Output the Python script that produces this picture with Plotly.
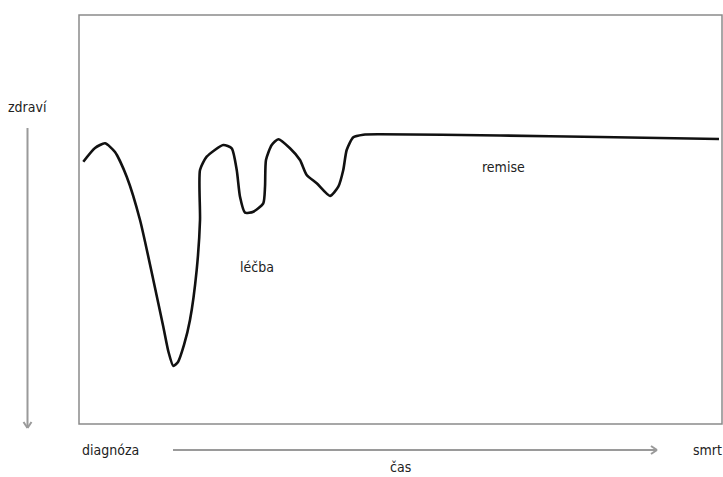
import plotly.graph_objects as go

# --- data (time 0-100 along x, health 0-100 along y) ---
W, H = 723, 477
L, R, T, B = 79, 722, 15, 424
PW, PH = R - L, B - T

curve_px = [(83.3,161.7),(95,148),(105,143.3),(115,152),(126.7,176.7),(140,220),(153.3,280),
            (163.3,326.7),(168.5,352),(173.3,366),(178,362),(184,345),(190,320),(196.7,270),
            (200,220),(200,170),(206.7,156.7),(223.3,145),(231.7,148.3),(236.7,170),
            (240,196.7),(245,212.7),(253.3,211.7),(263.3,203.3),(265,186.7),(266,160),
            (271.7,145),(278.3,139.3),(290,148.3),(300,160),(306.7,175),(316.7,183.3),
            (330,196),(338.3,186.7),(343.3,170),(346.7,150),(353.3,137.3),(363.3,134.7),
            (380,134.3),(500,135.5),(600,137),(719,139)]
cas = [round((x - L) / PW * 100, 2) for x, _ in curve_px]
zdravi = [round((B - y) / PH * 100, 2) for _, y in curve_px]

def px(x):
    return (x - L) / PW
def py(y):
    return (B - y) / PH

fig = go.Figure()
fig.add_trace(go.Scatter(x=cas, y=zdravi, mode="lines",
                         line=dict(color="#111111", width=2.6, shape="spline", smoothing=0.6),
                         hoverinfo="skip", showlegend=False))

FONT = "Liberation Sans Narrow, DejaVu Sans Condensed, Arial Narrow, sans-serif"
txt = dict(family=FONT, size=14, color="#222222")

ann = [
    ("zdraví", 27, 107),
    ("léčba", 257, 267),
    ("remise", 503, 167),
    ("diagnóza", 110, 450),
    ("smrt", 707, 450),
    ("čas", 400, 467),
]
for t, x, y in ann:
    fig.add_annotation(text=t, x=px(x), y=py(y), xref="paper", yref="paper",
                       showarrow=False, xanchor="center", yanchor="middle", font=txt)

arrow_col = "#9a9a9a"
shapes = [
    # horizontal time arrow
    dict(type="line", x0=px(173), x1=px(657), y0=py(450), y1=py(450)),
    dict(type="line", x0=px(651), x1=px(657), y0=py(446), y1=py(450)),
    dict(type="line", x0=px(651), x1=px(657), y0=py(454), y1=py(450)),
    # vertical health arrow
    dict(type="line", x0=px(27.5), x1=px(27.5), y0=py(128), y1=py(428)),
    dict(type="line", x0=px(23.5), x1=px(27.5), y0=py(422), y1=py(428)),
    dict(type="line", x0=px(31.5), x1=px(27.5), y0=py(422), y1=py(428)),
]
for s in shapes:
    s.update(xref="paper", yref="paper", line=dict(color=arrow_col, width=2))
    fig.add_shape(**s)

# frame
fig.add_shape(type="rect", xref="paper", yref="paper", x0=0, x1=1, y0=0, y1=1,
              line=dict(color="#8a8a8a", width=1.5))

fig.update_layout(
    width=W, height=H,
    margin=dict(l=L, r=W - R, t=T, b=H - B),
    paper_bgcolor="white", plot_bgcolor="white",
    xaxis=dict(range=[0, 100], visible=False, fixedrange=True),
    yaxis=dict(range=[0, 100], visible=False, fixedrange=True),
    showlegend=False,
)
fig.write_html("out.html", config={"displayModeBar": False},
               post_script="document.body.style.margin='0';document.body.style.overflow='hidden';")
